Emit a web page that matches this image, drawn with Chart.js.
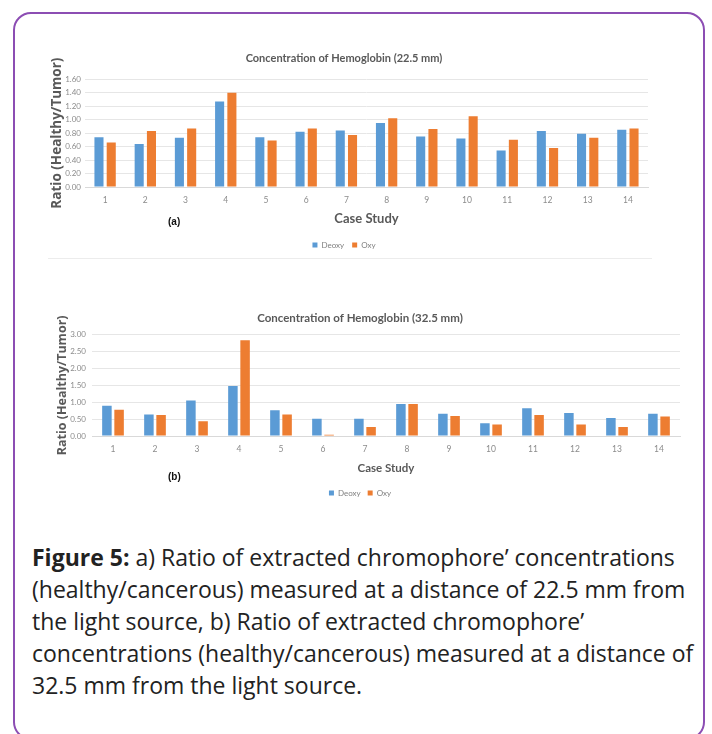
<!DOCTYPE html>
<html>
<head>
<meta charset="utf-8">
<script src="https://cdn.jsdelivr.net/npm/chart.js@4"></script>
<style>
  html, body { margin:0; padding:0; background:#fff; }
  body { width:712px; height:734px; position:relative; overflow:hidden; }
  #frame { position:absolute; left:13px; top:12px; width:692px; height:728px; border:2px solid #8c4db3; border-radius:18px; box-sizing:border-box; }
  .cv { position:absolute; }
  #c1wrap { left:40px; top:40px; width:620px; height:219px; }
  #c2wrap { left:40px; top:296px; width:650px; height:211px; }
  .tag { position:absolute; font:bold 10px "Liberation Sans", Arial, sans-serif; color:#111; }
  #sep { position:absolute; left:48px; top:258px; width:604px; height:1px; background:#ececec; }
  #caption { position:absolute; left:32px; top:541px; width:680px; font:23px "Open Sans", Lato, sans-serif; line-height:32px; color:#222; white-space:nowrap; }
</style>
</head>
<body>
<div id="frame"></div>
<div class="cv" id="c1wrap"><canvas id="c1"></canvas></div>
<div class="cv" id="c2wrap"><canvas id="c2"></canvas></div>
<div id="sep"></div>
<div class="tag" style="left:168px; top:216px;">(a)</div>
<div class="tag" style="left:168px; top:471px;">(b)</div>
<div id="caption"><b>Figure 5:</b> a) Ratio of extracted chromophore’ concentrations<br>(healthy/cancerous) measured at a distance of 22.5 mm from<br>the light source, b) Ratio of extracted chromophore’<br>concentrations (healthy/cancerous) measured at a distance of<br>32.5 mm from the light source.</div>
<script>
const categories = ['1','2','3','4','5','6','7','8','9','10','11','12','13','14'];
const seriesNames = ['Deoxy', 'Oxy'];
const deoxyA = [0.74, 0.64, 0.73, 1.27, 0.74, 0.82, 0.84, 0.95, 0.75, 0.72, 0.54, 0.83, 0.79, 0.85];
const oxyA   = [0.66, 0.83, 0.87, 1.40, 0.69, 0.87, 0.77, 1.02, 0.86, 1.05, 0.70, 0.58, 0.73, 0.87];
const deoxyB = [0.90, 0.64, 1.05, 1.48, 0.76, 0.51, 0.51, 0.95, 0.66, 0.38, 0.82, 0.68, 0.53, 0.66];
const oxyB   = [0.78, 0.62, 0.44, 2.84, 0.64, 0.04, 0.27, 0.95, 0.59, 0.34, 0.62, 0.34, 0.27, 0.58];
const titleA = 'Concentration of Hemoglobin (22.5 mm)';
const titleB = 'Concentration of Hemoglobin (32.5 mm)';
const yTitle = 'Ratio (Healthy/Tumor)';
const xTitle = 'Case Study';
const colors = ['#5b9bd5', '#ed7d31'];

const FONT = 'Lato, "Open Sans", sans-serif';

function makeChart(id, title, d1, d2, opt) {
  return new Chart(document.getElementById(id), {
    type: 'bar',
    data: {
      labels: categories,
      datasets: [
        { label: seriesNames[0], data: d1, backgroundColor: colors[0], categoryPercentage: opt.catPct, barPercentage: opt.barPct },
        { label: seriesNames[1], data: d2, backgroundColor: colors[1], categoryPercentage: opt.catPct, barPercentage: opt.barPct }
      ]
    },
    options: {
      responsive: true,
      maintainAspectRatio: false,
      animation: false,
      layout: { padding: { left: 0, right: opt.padRight, top: 0, bottom: 0 } },
      plugins: {
        title: { display: true, text: title, color: '#595959', font: { family: FONT, size: opt.titleSize, weight: 'bold' }, padding: { top: opt.titleTop, bottom: opt.titleBottom } },
        legend: { position: 'bottom', labels: { boxWidth: 5, boxHeight: 5, padding: opt.legPad, color: '#808080', font: { family: FONT, size: 8 } } },
        tooltip: { enabled: false }
      },
      scales: {
        x: {
          grid: { display: false },
          border: { display: true, color: '#d9d9d9' },
          ticks: { autoSkip: false, maxRotation: 0, color: '#8c8c8c', font: { family: FONT, size: 8.5 }, padding: opt.xTickPad },
          title: { display: true, text: xTitle, color: '#595959', font: { family: FONT, size: opt.xTitleSize, weight: 'bold' }, padding: { top: 0, bottom: opt.xTitlePad } },
          afterFit: s => { s.height = opt.xHeight; }
        },
        y: {
          min: 0, max: opt.max,
          grid: { color: '#e6e6e6', drawTicks: false },
          border: { display: false },
          ticks: { autoSkip: false, stepSize: opt.step, color: '#8c8c8c', font: { family: FONT, size: 8 }, padding: opt.yTickPad, callback: v => Number(v).toFixed(2) },
          title: { display: true, text: yTitle, color: '#595959', font: { family: '"Open Sans", sans-serif', size: opt.yTitleSize, weight: 'bold' }, padding: { top: opt.yTitlePad, bottom: 0 } },
          afterFit: s => { s.width = opt.yWidth; }
        }
      }
    }
  });
}

makeChart('c1', titleA, deoxyA, oxyA, {
  catPct: 0.61, barPct: 0.74, padRight: 12, titleSize: 11, titleTop: 12, titleBottom: 14,
  xTickPad: 0, xTitleSize: 13, xTitlePad: 6, xHeight: 46, max: 1.6, step: 0.2,
  yTickPad: 4, yTitlePad: 9, yWidth: 45, yTitleSize: 13.5, legPad: 8
});
makeChart('c2', titleB, deoxyB, oxyB, {
  catPct: 0.58, barPct: 0.78, padRight: 10, titleSize: 11.5, titleTop: 15, titleBottom: 10,
  xTickPad: 0, xTitleSize: 11.5, xTitlePad: 7, xHeight: 46, max: 3, step: 0.5,
  yTickPad: 6, yTitlePad: 15, yWidth: 52, yTitleSize: 12.5, legPad: 7
});
</script>
</body>
</html>
